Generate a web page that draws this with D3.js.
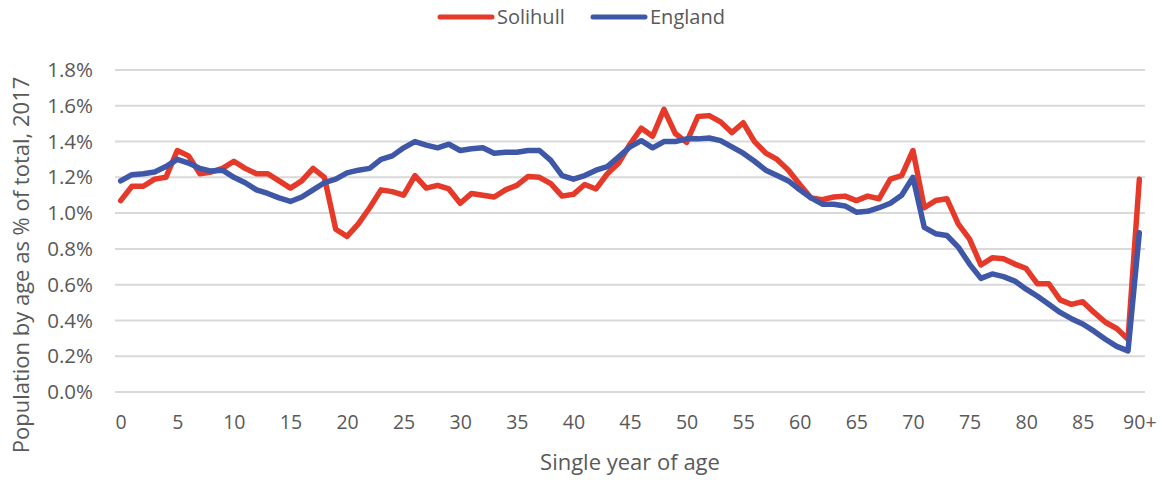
<!DOCTYPE html>
<html>
<head>
<meta charset="utf-8">
<script src="https://cdn.jsdelivr.net/npm/d3@7"></script>
<style>
  html, body { margin: 0; padding: 0; background: #fff; }
  svg { display: block; font-family: "Open Sans", "Noto Sans", sans-serif; }
</style>
</head>
<body>
<svg id="chart" width="1162" height="480"></svg>
<script>
// Single-year age labels, 0 to 89 plus the 90+ group
const ages = d3.range(0, 90).map(String).concat(["90+"]);

// Share of total population at each age, 2017 (percent)
const solihull = [
  1.07, 1.15, 1.15, 1.19, 1.20, 1.35, 1.32, 1.22, 1.23, 1.25,
  1.29, 1.25, 1.22, 1.22, 1.18, 1.14, 1.18, 1.25, 1.20, 0.91,
  0.87, 0.94, 1.03, 1.13, 1.12, 1.10, 1.21, 1.14, 1.155, 1.135,
  1.055, 1.11, 1.10, 1.09, 1.13, 1.155, 1.205, 1.20, 1.165, 1.095,
  1.105, 1.16, 1.135, 1.22, 1.28, 1.385, 1.475, 1.43, 1.58, 1.445,
  1.395, 1.54, 1.545, 1.51, 1.45, 1.505, 1.40, 1.335, 1.30, 1.24,
  1.16, 1.085, 1.075, 1.09, 1.095, 1.07, 1.095, 1.08, 1.19, 1.21,
  1.35, 1.03, 1.07, 1.08, 0.94, 0.855, 0.71, 0.75, 0.745, 0.715,
  0.69, 0.605, 0.605, 0.515, 0.49, 0.505, 0.445, 0.39, 0.355, 0.295,
  1.19
];
const england = [
  1.18, 1.215, 1.22, 1.23, 1.26, 1.30, 1.28, 1.25, 1.235, 1.24,
  1.20, 1.17, 1.13, 1.11, 1.085, 1.065, 1.09, 1.13, 1.17, 1.19,
  1.225, 1.24, 1.25, 1.30, 1.32, 1.365, 1.40, 1.38, 1.365, 1.385,
  1.35, 1.36, 1.365, 1.335, 1.34, 1.34, 1.35, 1.35, 1.295, 1.21,
  1.19, 1.21, 1.24, 1.26, 1.315, 1.37, 1.405, 1.365, 1.40, 1.40,
  1.415, 1.415, 1.42, 1.405, 1.37, 1.335, 1.29, 1.24, 1.21, 1.18,
  1.13, 1.085, 1.05, 1.05, 1.04, 1.005, 1.01, 1.03, 1.055, 1.10,
  1.20, 0.92, 0.885, 0.875, 0.81, 0.715, 0.635, 0.66, 0.645, 0.62,
  0.575, 0.535, 0.49, 0.445, 0.41, 0.38, 0.34, 0.295, 0.255, 0.23,
  0.89
];

const seriesNames = ["Solihull", "England"];
const seriesColors = ["#E5392A", "#3F57A7"];

const xTickLabels = ["0", "5", "10", "15", "20", "25", "30", "35", "40", "45",
                     "50", "55", "60", "65", "70", "75", "80", "85", "90+"];
const yTickValues = [0, 0.2, 0.4, 0.6, 0.8, 1.0, 1.2, 1.4, 1.6, 1.8];

const svg = d3.select("#chart");
const textColor = "#595959";
const gridColor = "#D9D9D9";

const plot = { left: 115, right: 1145, top: 70, bottom: 392 };

const x = d3.scalePoint()
  .domain(ages)
  .range([plot.left, plot.right])
  .padding(0.5);

const y = d3.scaleLinear()
  .domain([0, 1.8])
  .range([plot.bottom, plot.top]);

// Horizontal gridlines
svg.append("g")
  .selectAll("line")
  .data(yTickValues)
  .join("line")
  .attr("x1", plot.left)
  .attr("x2", plot.right)
  .attr("y1", d => y(d))
  .attr("y2", d => y(d))
  .attr("stroke", gridColor)
  .attr("stroke-width", 2);

// Y axis labels
const yAxis = d3.axisLeft(y)
  .tickValues(yTickValues)
  .tickFormat(d => d.toFixed(1) + "%")
  .tickSize(0)
  .tickPadding(0);

svg.append("g")
  .attr("transform", `translate(${plot.left - 22},0)`)
  .call(yAxis)
  .call(g => g.select(".domain").remove())
  .selectAll("text")
  .attr("fill", textColor)
  .attr("font-size", 20.5)
  .attr("font-family", "'Open Sans', sans-serif");

// X axis labels (every fifth age)
const xAxis = d3.axisBottom(x)
  .tickValues(xTickLabels)
  .tickSize(0)
  .tickPadding(0);

svg.append("g")
  .attr("transform", `translate(0,${plot.bottom + 23})`)
  .call(xAxis)
  .call(g => g.select(".domain").remove())
  .selectAll("text")
  .attr("fill", textColor)
  .attr("font-size", 19.5)
  .attr("font-family", "'Open Sans', sans-serif");

// Axis titles
svg.append("text")
  .attr("x", (plot.left + plot.right) / 2)
  .attr("y", 470)
  .attr("text-anchor", "middle")
  .attr("fill", textColor)
  .attr("font-size", 22)
  .text("Single year of age");

svg.append("text")
  .attr("transform", `translate(29,${265}) rotate(-90)`)
  .attr("text-anchor", "middle")
  .attr("fill", textColor)
  .attr("font-size", 22)
  .text("Population by age as % of total, 2017");

// Series lines
const line = d3.line()
  .x((d, i) => x(ages[i]))
  .y(d => y(d));

[solihull, england].forEach((values, k) => {
  svg.append("path")
    .datum(values)
    .attr("fill", "none")
    .attr("stroke", seriesColors[k])
    .attr("stroke-width", 5.5)
    .attr("stroke-linejoin", "round")
    .attr("stroke-linecap", "round")
    .attr("d", line);
});

// Legend
const legendItems = [
  { name: seriesNames[0], color: seriesColors[0], x: 438 },
  { name: seriesNames[1], color: seriesColors[1], x: 591 }
];
const legend = svg.append("g");
legendItems.forEach(item => {
  legend.append("line")
    .attr("x1", item.x + 2)
    .attr("x2", item.x + 54)
    .attr("y1", 17)
    .attr("y2", 17)
    .attr("stroke", item.color)
    .attr("stroke-width", 5)
    .attr("stroke-linecap", "round");
  legend.append("text")
    .attr("x", item.x + 59)
    .attr("y", 24)
    .attr("fill", textColor)
    .attr("font-size", 20)
    .text(item.name);
});
</script>
</body>
</html>
